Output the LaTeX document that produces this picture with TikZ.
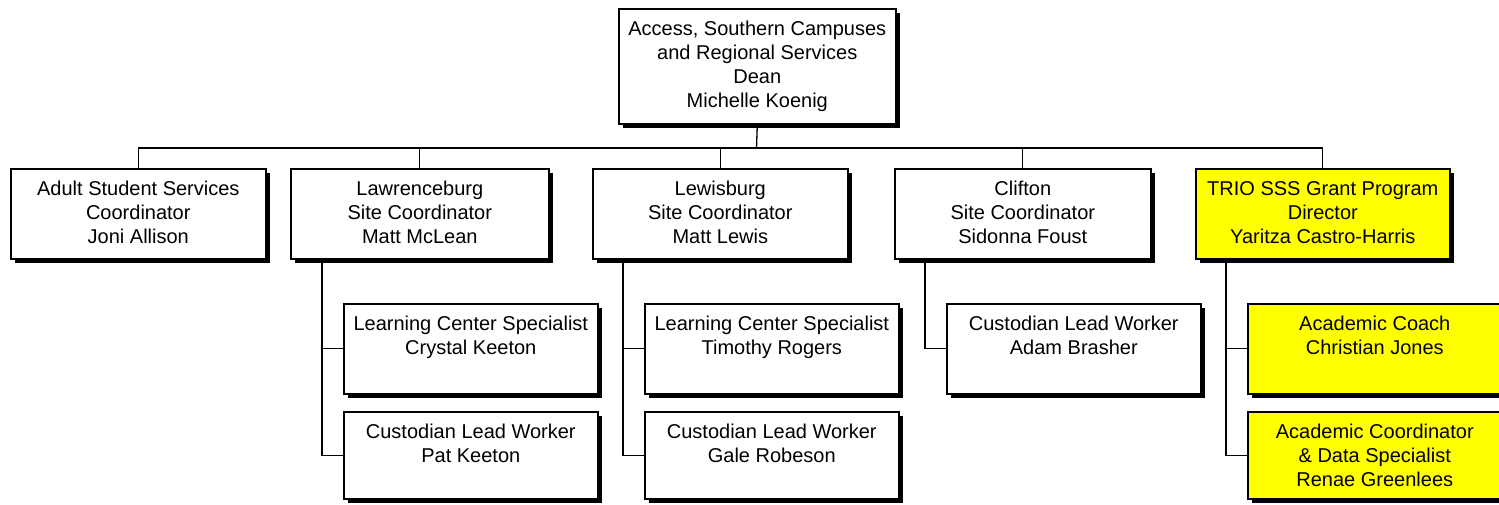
\documentclass[tikz,border=0pt]{standalone}
\usepackage{fontspec}
\setmainfont{Liberation Sans}
\usetikzlibrary{shadows}
\definecolor{ylw}{RGB}{255,255,0}
\begin{document}
\begin{tikzpicture}[x=1pt,y=-1pt,
  box/.style={draw=black, line width=1.6pt, fill=white, inner sep=0pt, anchor=north west,
    minimum width=256pt, minimum height=90pt,
    general shadow={fill=black, shadow xshift=4.5pt, shadow yshift=-4.5pt}},
  ybox/.style={box, fill=ylw},
  cbox/.style={minimum width=254pt},
  txt/.style={anchor=north, yshift=-13pt, align=center, inner sep=0pt,
    font=\fontsize{20}{24}\selectfont, text=black},
  conn/.style={line width=1.3pt, draw=black}]
\useasboundingbox (0,0) rectangle (1499,504);
\clip (0,0) rectangle (1499,504);
% top
\node[box, minimum width=277pt, minimum height=115pt,
  label={[txt]north:Access, Southern Campuses\\and Regional Services\\Dean\\Michelle Koenig}] (dean) at (618,8) {};
% level 2
\node[box, minimum width=255pt, label={[txt]north:Adult Student Services\\Coordinator\\Joni Allison}] (asc) at (10,168) {};
\node[box, minimum width=258pt, label={[txt]north:Lawrenceburg\\Site Coordinator\\Matt McLean}] (law) at (290,168) {};
\node[box, minimum width=255pt, label={[txt]north:Lewisburg\\Site Coordinator\\Matt Lewis}] (lew) at (592,168) {};
\node[box, label={[txt]north:Clifton\\Site Coordinator\\Sidonna Foust}] (clf) at (894,168) {};
\node[ybox, minimum width=254pt, label={[txt]north:TRIO SSS Grant Program\\Director\\Yaritza Castro-Harris}] (trio) at (1195,168) {};
% children
\node[box, cbox, label={[txt]north:Learning Center Specialist\\Crystal Keeton}] (law1) at (343,303) {};
\node[box, cbox, minimum height=87pt, label={[txt]north:Custodian Lead Worker\\Pat Keeton}] (law2) at (343,411) {};
\node[box, cbox, label={[txt]north:Learning Center Specialist\\Timothy Rogers}] (lew1) at (644,303) {};
\node[box, cbox, minimum height=87pt, label={[txt]north:Custodian Lead Worker\\Gale Robeson}] (lew2) at (644,411) {};
\node[box, cbox, label={[txt]north:Custodian Lead Worker\\Adam Brasher}] (clf1) at (946,303) {};
\node[ybox, cbox, label={[txt]north:Academic Coach\\Christian Jones}] (trio1) at (1247,303) {};
\node[ybox, cbox, minimum height=87pt, label={[txt]north:Academic Coordinator\\\& Data Specialist\\Renae Greenlees}] (trio2) at (1247,411) {};
% connectors
\coordinate (bus) at (756.5,148);
\draw[conn] (dean.south) -- (bus);
\draw[conn] (asc.north) -- (asc.north |- bus) -- (trio.north |- bus) -- (trio.north);
\draw[conn] (law.north) -- (law.north |- bus);
\draw[conn] (lew.north) -- (lew.north |- bus);
\draw[conn] (clf.north) -- (clf.north |- bus);
\draw[conn] ([xshift=32pt]law.south west) |- (law1.west);
\draw[conn] ([xshift=32pt]law.south west) |- (law2.west);
\draw[conn] ([xshift=31pt]lew.south west) |- (lew1.west);
\draw[conn] ([xshift=31pt]lew.south west) |- (lew2.west);
\draw[conn] ([xshift=31pt]clf.south west) |- (clf1.west);
\draw[conn] ([xshift=31pt]trio.south west) |- (trio1.west);
\draw[conn] ([xshift=31pt]trio.south west) |- (trio2.west);
\end{tikzpicture}
\end{document}
